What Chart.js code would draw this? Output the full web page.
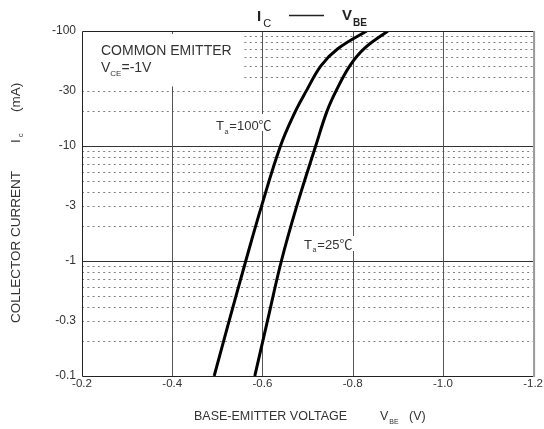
<!DOCTYPE html>
<html>
<head>
<meta charset="utf-8">
<script src="https://cdn.jsdelivr.net/npm/chart.js@4.4.0/dist/chart.umd.min.js"></script>
<style>
  html, body { margin: 0; padding: 0; background: #fff; }
  #wrap { width: 544px; height: 429px; }
</style>
</head>
<body>
<div id="wrap"><canvas id="icVbe" width="544" height="429"></canvas></div>
<script>
// Collector current magnitude (mA) where the curves were read
const currentMA = [0.1, 0.3, 1, 3, 10, 20, 30, 50, 70, 100];
// Base-emitter voltage magnitude (V) for each curve
const vbe100C = [0.493, 0.526, 0.563, 0.598, 0.640, 0.673, 0.697, 0.730, 0.767, 0.831];
const vbe25C  = [0.583, 0.611, 0.642, 0.676, 0.718, 0.743, 0.763, 0.794, 0.825, 0.878];

// Axis ticks
const xTickValues = [0.2, 0.4, 0.6, 0.8, 1.0, 1.2];
const xTickLabels = ['-0.2', '-0.4', '-0.6', '-0.8', '-1.0', '-1.2'];
const yTickValues = [0.1, 0.3, 1, 3, 10, 30, 100];
const yTickLabels = ['-0.1', '-0.3', '-1', '-3', '-10', '-30', '-100'];

// Grid
const yMajorGrid = [1, 10];
const yMinorSteps = [2, 3, 4, 5, 6, 7, 8, 9];
const yDecades = [0.1, 1, 10];
const xMajorGrid = [0.4, 0.6, 0.8, 1.0];

const FONT = '"Liberation Sans", Arial, "Noto Sans CJK JP", sans-serif';

function toPoints(vs) {
  return vs.map((v, i) => ({ x: v, y: currentMA[i] }));
}

function txt(ctx, s, x, y, size, weight) {
  ctx.font = (weight || 'normal') + ' ' + size + 'px ' + FONT;
  ctx.fillText(s, x, y);
  return x + ctx.measureText(s).width;
}

const sheetPlugin = {
  id: 'sheet',
  beforeDatasetsDraw(chart) {
    const ctx = chart.ctx;
    const xs = chart.scales.x, ys = chart.scales.y;
    const area = chart.chartArea;
    // the note box in the top left keeps the grid clear
    const boxRight = xs.getPixelForValue(0.56);
    const boxBottom = ys.getPixelForValue(33);

    ctx.save();
    // dotted minor lines
    ctx.strokeStyle = '#808080';
    ctx.lineWidth = 1;
    ctx.setLineDash([2, 3.3]);
    yDecades.forEach(d => {
      yMinorSteps.forEach(m => {
        const v = d * m;
        const y = Math.round(ys.getPixelForValue(v)) + 0.5;
        const x0 = (y < boxBottom) ? boxRight : area.left;
        ctx.beginPath();
        ctx.moveTo(x0, y);
        ctx.lineTo(area.right, y);
        ctx.stroke();
      });
    });
    ctx.setLineDash([]);

    // solid horizontal decades
    ctx.strokeStyle = '#333';
    yMajorGrid.forEach(v => {
      const y = Math.round(ys.getPixelForValue(v)) + 0.5;
      ctx.beginPath();
      ctx.moveTo(area.left, y);
      ctx.lineTo(area.right, y);
      ctx.stroke();
    });

    // solid verticals
    ctx.strokeStyle = '#555';
    xMajorGrid.forEach(v => {
      const x = Math.round(xs.getPixelForValue(v)) + 0.5;
      const y0 = (x < boxRight) ? boxBottom : area.top;
      ctx.beginPath();
      ctx.moveTo(x, y0);
      ctx.lineTo(x, area.bottom);
      ctx.stroke();
      if (x < boxRight) {
        ctx.beginPath();
        ctx.moveTo(x, area.top);
        ctx.lineTo(x, area.top + 3);
        ctx.stroke();
      }
    });
    ctx.restore();
  },
  afterDatasetsDraw(chart) {
    const ctx = chart.ctx;
    const area = chart.chartArea;
    ctx.save();

    // frame
    ctx.lineWidth = 1;
    ctx.strokeStyle = '#222';
    ctx.beginPath();
    ctx.moveTo(area.right, area.top + 0.5);
    ctx.lineTo(area.left + 0.5, area.top + 0.5);
    ctx.lineTo(area.left + 0.5, area.bottom + 0.5);
    ctx.lineTo(area.right, area.bottom + 0.5);
    ctx.stroke();
    ctx.strokeStyle = '#999';
    ctx.lineWidth = 2;
    ctx.beginPath();
    ctx.moveTo(area.right + 1, area.top);
    ctx.lineTo(area.right + 1, area.bottom + 1);
    ctx.stroke();

    ctx.fillStyle = '#222';
    ctx.textBaseline = 'alphabetic';
    ctx.textAlign = 'left';

    // title  I_C —— V_BE
    let x = txt(ctx, 'I', 257, 20.5, 15, 'bold');
    txt(ctx, 'C', x + 2, 27, 11, 'normal');
    ctx.strokeStyle = '#222';
    ctx.lineWidth = 1.5;
    ctx.beginPath();
    ctx.moveTo(289, 15.5);
    ctx.lineTo(324, 15.5);
    ctx.stroke();
    x = txt(ctx, 'V', 342, 19.5, 15, 'bold');
    txt(ctx, 'BE', x + 1, 26, 10, 'bold');

    // note box text
    ctx.fillStyle = '#333';
    txt(ctx, 'COMMON EMITTER', 101, 55, 14);
    x = txt(ctx, 'V', 101, 71.5, 14);
    x = txt(ctx, 'CE', x, 76, 8);
    txt(ctx, '=-1V', x, 71.5, 14);

    // curve labels
    ctx.fillStyle = '#fff';
    ctx.fillRect(257, 114, 19, 17);
    ctx.fillRect(338, 236, 18, 15);
    ctx.fillStyle = '#333';
    x = txt(ctx, 'T', 216, 130, 13);
    x = txt(ctx, 'a', x + 0.5, 133.5, 7);
    txt(ctx, '=100\u2103', x + 1, 130, 13);
    x = txt(ctx, 'T', 304, 248.5, 13);
    x = txt(ctx, 'a', x + 0.5, 252, 7);
    txt(ctx, '=25\u2103', x + 1, 248.5, 13);

    // x axis title
    x = txt(ctx, 'BASE-EMITTER VOLTAGE', 194, 420, 12.5);
    x = txt(ctx, 'V', 380, 420, 12.5);
    x = txt(ctx, 'BE', x + 1, 424, 7);
    txt(ctx, '(V)', 409, 420, 12.5);

    // y axis title (rotated)
    ctx.translate(19.5, 323);
    ctx.rotate(-Math.PI / 2);
    txt(ctx, 'COLLECTOR CURRENT', 0, 0, 13.5);
    x = txt(ctx, 'I', 180, 0, 13.5);
    txt(ctx, 'c', x + 2, 3, 8);
    txt(ctx, '(mA)', 211, 0, 13.5);
    ctx.restore();
  }
};

const chart = new Chart(document.getElementById('icVbe'), {
  type: 'scatter',
  data: {
    datasets: [
      {
        label: 'Ta=100C',
        data: toPoints(vbe100C),
        showLine: true,
        borderColor: '#000',
        borderWidth: 3,
        pointRadius: 0,
        tension: 0.4,
        fill: false
      },
      {
        label: 'Ta=25C',
        data: toPoints(vbe25C),
        showLine: true,
        borderColor: '#000',
        borderWidth: 3,
        pointRadius: 0,
        tension: 0.4,
        fill: false
      }
    ]
  },
  options: {
    responsive: false,
    animation: false,
    devicePixelRatio: 1,
    layout: { padding: { top: 31, right: 8, left: 0, bottom: 0 } },
    plugins: {
      legend: { display: false },
      tooltip: { enabled: false }
    },
    scales: {
      x: {
        type: 'linear',
        min: 0.2,
        max: 1.2,
        afterBuildTicks: s => { s.ticks = xTickValues.map(v => ({ value: v })); },
        afterFit: s => { s.height = 53; },
        ticks: {
          padding: 1,
          color: '#333',
          font: { family: FONT, size: 11.5 },
          maxRotation: 0,
          autoSkip: false,
          callback: (v) => xTickLabels[xTickValues.findIndex(t => Math.abs(t - v) < 1e-6)]
        },
        grid: { display: false, drawTicks: false },
        border: { display: false }
      },
      y: {
        type: 'logarithmic',
        min: 0.1,
        max: 100,
        afterBuildTicks: s => { s.ticks = yTickValues.map(v => ({ value: v })); },
        afterFit: s => { s.width = 82; },
        ticks: {
          padding: 6,
          color: '#333',
          font: { family: FONT, size: 12 },
          autoSkip: false,
          callback: (v) => yTickLabels[yTickValues.findIndex(t => Math.abs(t - v) / t < 1e-6)]
        },
        grid: { display: false, drawTicks: false },
        border: { display: false }
      }
    }
  },
  plugins: [sheetPlugin]
});
</script>
</body>
</html>
